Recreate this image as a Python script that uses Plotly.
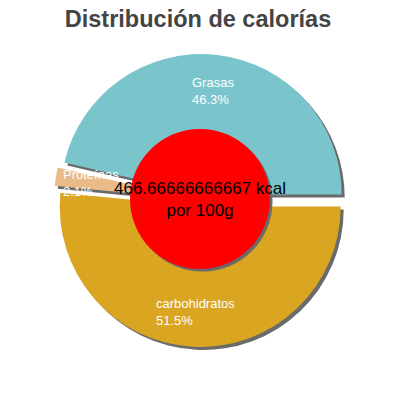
import numpy as np
import plotly.graph_objects as go

# slices in drawing order (clockwise from 3 o'clock)
labels = ["carbohidratos", "Proteínas", "Grasas"]
percents = [51.5, 2.1, 46.3]
colors = ["#daa520", "#e9bb88", "#7ac4cc"]

title = "Distribución de calorías"
center_text = "466.66666666667 kcal<br>por 100g"

W, H = 400, 400
cx, cy = 200.5, 200.5    # pie centre in px
R = 140.5                # pie radius in px
pull = 6 / R
shadow_dx, shadow_dy = 3, 3
half = R * (1 + pull)


def px(x, y):
    return x / W, 1 - y / H


def dom(dx=0, dy=0):
    x0, y1 = px(cx - half + dx, cy - half + dy)
    x1, y0 = px(cx + half + dx, cy + half + dy)
    return dict(x=[x0, x1], y=[y0, y1])


fig = go.Figure()

# shadow
fig.add_trace(go.Pie(values=percents, labels=labels, sort=False, direction="clockwise",
                     rotation=90, pull=pull, domain=dom(shadow_dx, shadow_dy),
                     marker=dict(colors=["#6a6a6a"] * 3, line=dict(width=0)),
                     textinfo="none", hoverinfo="skip", showlegend=False))

fig.add_trace(go.Pie(values=percents, labels=labels, sort=False, direction="clockwise",
                     rotation=90, pull=pull, domain=dom(),
                     marker=dict(colors=colors, line=dict(width=0)),
                     textinfo="none", hoverinfo="label+percent", showlegend=False))

# slice labels at the middle angle of each slice
fr = np.array(percents) / sum(percents)
start = 90 + 360 * np.concatenate([[0], np.cumsum(fr)[:-1]])
mid = np.radians(start + 180 * fr)
r_lab = 111
for lab, p, a in zip(labels, percents, mid):
    x, y = px(cx + r_lab * np.sin(a), cy - r_lab * np.cos(a) + 1)
    fig.add_annotation(x=x, y=y, xref="paper", yref="paper",
                       text=f"{lab}<br>{p}%", showarrow=False, align="left",
                       xanchor="center", yanchor="middle",
                       font=dict(color="white", size=13, family="Liberation Sans"))

# red centre disc with shadow
cr = 70
ccx, ccy = 200, 199
for d, col in [(2.5, "#6a6a6a"), (0, "#ff0000")]:
    x0, y1 = px(ccx - cr + d, ccy - cr + d)
    x1, y0 = px(ccx + cr + d, ccy + cr + d)
    fig.add_shape(type="circle", xref="paper", yref="paper", layer="above",
                  x0=x0, x1=x1, y0=y0, y1=y1, fillcolor=col, line=dict(width=0))

tx, ty = px(ccx, ccy)
fig.add_annotation(x=tx, y=ty, xref="paper", yref="paper",
                   text=center_text, showarrow=False,
                   font=dict(color="black", size=17, family="Liberation Sans"))

ttx, tty = px(198, 18.5)
fig.update_layout(
    width=W, height=H,
    margin=dict(l=0, r=0, t=0, b=0),
    paper_bgcolor="white",
    title=dict(text=f"<b>{title}</b>", x=ttx, xanchor="center", y=tty, yanchor="middle",
               font=dict(size=23.5, color="#444444", family="Liberation Sans")),
)

# drop the browser's default 8px body margin so the 400x400 figure fills the window
fig.write_html("out.html", config={"displayModeBar": False},
               post_script="document.body.style.margin = '0';")
